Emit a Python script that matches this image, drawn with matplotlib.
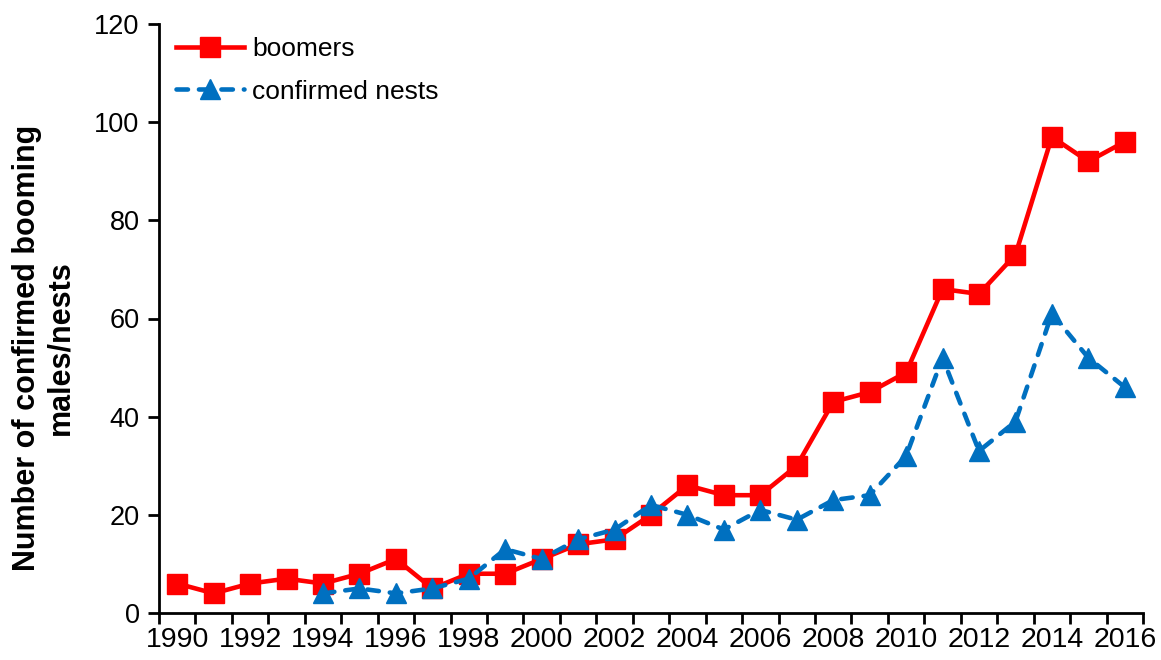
import matplotlib
matplotlib.use("Agg")
import matplotlib.pyplot as plt
import numpy as np

years = list(range(1990, 2017))
boomers = [6, 4, 6, 7, 6, 8, 11, 5, 8, 8, 11, 14, 15, 20, 26, 24, 24, 30, 43, 45, 49, 66, 65, 73, 97, 92, 96]
nest_years = list(range(1994, 2017))
nests = [4, 5, 4, 5, 7, 13, 11, 15, 17, 22, 20, 17, 21, 19, 23, 24, 32, 52, 33, 39, 61, 52, 46]
yticks = [0, 20, 40, 60, 80, 100, 120]

plt.rcParams['font.family'] = ['Liberation Sans', 'DejaVu Sans']

fig = plt.figure(figsize=(11.61, 6.6), dpi=100)
ax = fig.add_axes([159/1161, 47/660, (1143-159)/1161, (613-24)/660])

xb = [years.index(y) for y in years]
xn = [years.index(y) for y in nest_years]

ax.plot(xb, boomers, color='#FF0000', lw=3.3, marker='s', markersize=14,
        label='boomers', solid_joinstyle='round', zorder=3)
ax.plot(xn, nests, color='#0070C0', lw=3.3, marker='^', markersize=15,
        dashes=(2.5, 2.4), dash_capstyle='round', label='confirmed nests', zorder=4)

ax.set_xlim(-0.5, len(years) - 0.5)
ax.set_ylim(0, 120)
ax.set_yticks(yticks)
ax.set_yticklabels([str(v) for v in yticks], fontsize=19.5)

bounds = np.arange(-0.5, len(years), 1.0)
ax.set_xticks(bounds)
ax.set_xticklabels([])
centers = list(range(0, len(years), 2))
ax.set_xticks(centers, minor=True)
ax.set_xticklabels([str(years[i]) for i in centers], minor=True, fontsize=20.5)
ax.tick_params(axis='x', which='major', length=8, width=2, direction='out')
ax.tick_params(axis='x', which='minor', length=0, pad=10)
ax.tick_params(axis='y', length=8, width=2, direction='out', pad=6)

for s in ['top', 'right']:
    ax.spines[s].set_visible(False)
for s in ['left', 'bottom']:
    ax.spines[s].set_linewidth(2)

fig.text(44/1161, 1 - 348/660, 'Number of confirmed booming\nmales/nests', rotation=90,
         ha='center', va='center', multialignment='center', fontsize=22,
         fontweight='bold', linespacing=1.15)

leg = ax.legend(loc='upper left', frameon=False, fontsize=19, handlelength=2.6,
                bbox_to_anchor=(0.005, 0.998), borderaxespad=0.05, handletextpad=0.3,
                labelspacing=0.7)

fig.savefig('out.png', dpi=100)
